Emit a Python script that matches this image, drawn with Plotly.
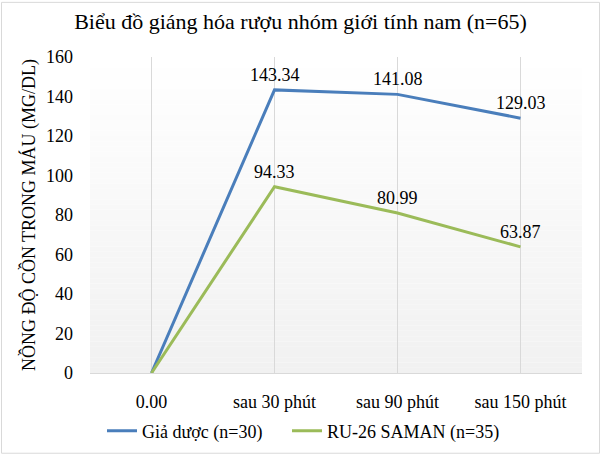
import plotly.graph_objects as go

categories = ["0.00", "sau 30 phút", "sau 90 phút", "sau 150 phút"]
placebo = [0, 143.34, 141.08, 129.03]
saman = [0, 94.33, 80.99, 63.87]
placebo_labels = ["", "143.34", "141.08", "129.03"]
saman_labels = ["", "94.33", "80.99", "63.87"]
series_names = ["Giả dược (n=30)", "RU-26 SAMAN (n=35)"]
title_text = "Biểu đồ giáng hóa rượu nhóm giới tính nam (n=65)"
y_title = "NỒNG ĐỘ CỒN TRONG MÁU (MG/DL)"

FONT = "Liberation Serif"
W, H = 601, 461
ML, MR, MT, MB = 90, 19, 57, 83

fig = go.Figure()
fig.add_trace(go.Scatter(
    x=categories, y=placebo, mode="lines", name=series_names[0],
    line=dict(color="#4A7EBB", width=3), legend="legend",
))
fig.add_trace(go.Scatter(
    x=categories, y=saman, mode="lines", name=series_names[1],
    line=dict(color="#9BBB59", width=3), legend="legend2",
))

annotations = []
for xs, ys, labels in [(categories, placebo, placebo_labels), (categories, saman, saman_labels)]:
    for xv, yv, lab in zip(xs, ys, labels):
        if lab:
            annotations.append(dict(x=xv, y=yv, xref="x", yref="y", text=lab,
                                    showarrow=False, yanchor="middle", yshift=15,
                                    font=dict(family=FONT, size=18, color="black")))

shapes = []
n = 60
for i in range(n):
    t = (i + 0.5) / n
    v = int(round(241 + (255 - 241) * t))
    shapes.append(dict(type="rect", xref="x domain", yref="y domain",
                       x0=0, x1=1, y0=i / n, y1=(i + 1) / n,
                       fillcolor=f"rgb({v},{v},{v})", line=dict(width=0),
                       layer="below"))
pw = W - ML - MR
ph = H - MT - MB
shapes.append(dict(type="rect", xref="paper", yref="paper",
                   x0=(1.5 - ML) / pw, x1=(W - 1.5 - ML) / pw,
                   y0=-(MB - 1.5) / ph, y1=(H - MB - 1.5) / ph,
                   line=dict(color="#D9D9D9", width=1), fillcolor="rgba(0,0,0,0)",
                   layer="below"))

legend_common = dict(orientation="h", xanchor="left",
                     y=-(437 - 378) / ph, yanchor="middle",
                     font=dict(family=FONT, size=18, color="black"),
                     itemwidth=30, bgcolor="rgba(0,0,0,0)")

fig.update_layout(
    width=W, height=H,
    margin=dict(l=ML, r=MR, t=MT, b=MB),
    paper_bgcolor="white", plot_bgcolor="rgba(0,0,0,0)",
    font=dict(family=FONT, size=18, color="black"),
    title=dict(text=title_text, x=0.5, xref="container", xanchor="center",
               y=1 - 21 / H, yref="container", yanchor="middle",
               font=dict(family=FONT, size=22, color="black")),
    showlegend=True,
    legend=dict(x=(102 - ML) / pw, **legend_common),
    legend2=dict(x=(287 - ML) / pw, **legend_common),
    shapes=shapes,
    annotations=annotations,
)
fig.update_xaxes(
    type="category", categoryorder="array", categoryarray=categories,
    range=[-0.5, 3.5],
    showgrid=True, gridcolor="#D9D9D9", gridwidth=1,
    showline=True, linecolor="#D9D9D9", linewidth=1,
    ticks="", tickfont=dict(family=FONT, size=18, color="black"),
    ticklabelstandoff=12,
)
fig.update_yaxes(
    range=[0, 160], dtick=20, showgrid=False, zeroline=False,
    showline=False, ticks="",
    tickfont=dict(family=FONT, size=18, color="black"),
    ticklabelstandoff=16,
    title=dict(text=y_title, font=dict(family=FONT, size=18, color="black"), standoff=5),
)

fig.write_html("out.html")
